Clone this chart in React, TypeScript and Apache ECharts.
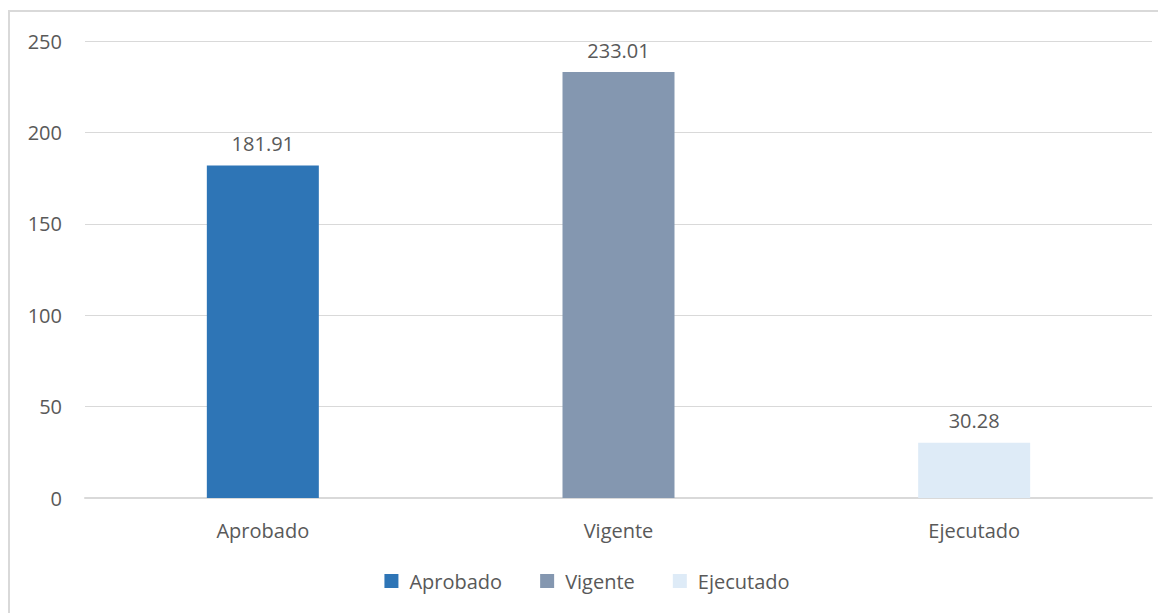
import React, { useEffect, useRef } from "react";
import * as echarts from "echarts";

const categories = ["Aprobado", "Vigente", "Ejecutado"];
const seriesNames = ["Aprobado", "Vigente", "Ejecutado"];
const values = [181.91, 233.01, 30.28];
const colors = ["#2E75B6", "#8497B0", "#DEEBF7"];
const yTicks = { min: 0, max: 250, interval: 50 };

const FONT = "'Open Sans', 'Liberation Sans', sans-serif";
const TEXT = "#595959";

export default function App() {
  const ref = useRef<HTMLDivElement>(null);
  useEffect(() => {
    const chart = echarts.init(ref.current!, null, { renderer: "svg" });
    const series = seriesNames.map((name, i) => ({
      name,
      type: "bar",
      stack: "all",
      barWidth: 112,
      itemStyle: { color: colors[i] },
      data: categories.map((_, j) => (j === i ? values[i] : null)),
      label: {
        show: true,
        position: "top",
        distance: 12,
        color: TEXT,
        fontFamily: FONT,
        fontSize: 20,
        formatter: (p: any) => Number(p.value).toFixed(2),
      },
    }));
    chart.setOption({
      animation: false,
      backgroundColor: "#ffffff",
      textStyle: { fontFamily: FONT },
      graphic: [
        {
          type: "rect",
          shape: { x: 1, y: 3, width: 1200, height: 700 },
          style: { fill: "none", stroke: "#d9d9d9", lineWidth: 2 },
          silent: true,
        },
      ],
      grid: { left: 77, right: 14, top: 33, bottom: 115, containLabel: false },
      legend: {
        bottom: 17,
        left: "center",
        itemWidth: 14,
        itemHeight: 14,
        itemGap: 38,
        icon: "rect",
        textStyle: { color: TEXT, fontSize: 20, fontFamily: FONT, padding: [0, 0, 0, 6] },
        data: seriesNames,
      },
      xAxis: {
        type: "category",
        data: categories,
        axisLine: { lineStyle: { color: "#d9d9d9", width: 2 } },
        axisTick: { show: false },
        axisLabel: { color: TEXT, fontSize: 20, fontFamily: FONT, margin: 22 },
      },
      yAxis: {
        type: "value",
        min: yTicks.min,
        max: yTicks.max,
        interval: yTicks.interval,
        axisLine: { show: false },
        axisTick: { show: false },
        axisLabel: { color: TEXT, fontSize: 20, fontFamily: FONT, margin: 23 },
        splitLine: { lineStyle: { color: "#d9d9d9", width: 1 } },
      },
      series,
    });
    return () => chart.dispose();
  }, []);
  return <div ref={ref} style={{ width: 1158, height: 605 }} />;
}
